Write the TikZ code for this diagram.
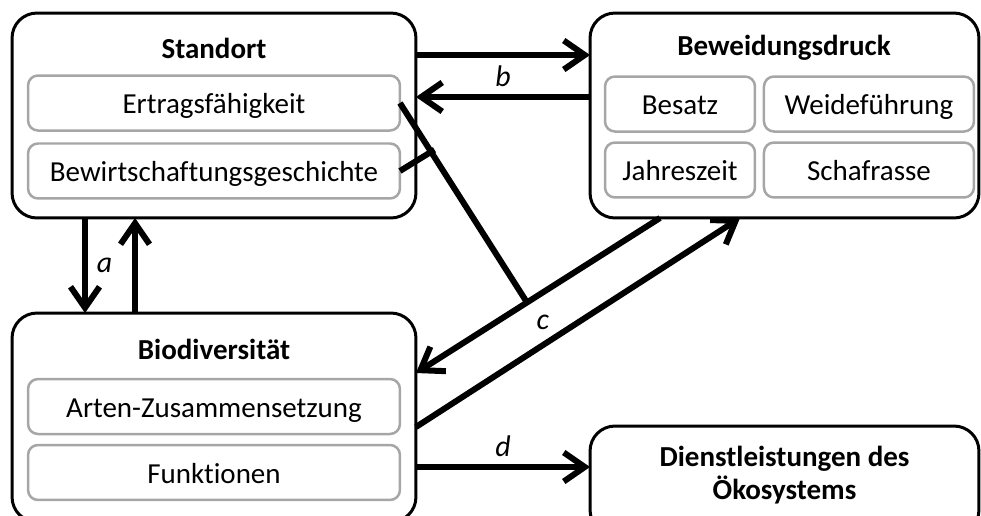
\documentclass[tikz,border=0pt]{standalone}
\usepackage{fontspec}
\setmainfont{Carlito}[Ligatures=NoCommon]
\usetikzlibrary{positioning,arrows.meta}

\tikzset{
  outerbox/.style={draw=black, line width=0.06cm, rounded corners=0.5cm, inner sep=0pt, outer sep=0pt},
  innerbox/.style={draw=black!35, line width=0.05cm, rounded corners=0.2cm, minimum height=1.1cm, inner sep=0pt, outer sep=0pt,
    text height=15pt, text depth=2.6pt, font=\fontsize{16.5}{19}\selectfont},
  titletext/.style={font=\fontsize{16.5}{19}\selectfont\bfseries, align=center},
  flow/.style={line width=0.12cm, -{Straight Barb[length=0.42cm,width=0.58cm]}},
  link/.style={line width=0.12cm},
  lbl/.style={font=\fontsize{17}{19}\selectfont\itshape, inner sep=1pt}
}

\begin{document}
\begin{tikzpicture}[x=0.02cm, y=-0.02cm]
\useasboundingbox (0,0) rectangle (981,515);
\clip (0,0) rectangle (981,515);

% Standort
\node[outerbox, minimum width=8.08cm, minimum height=4.1cm] (standort) at (214,115.5) {};
\node[titletext] (standorttitle) at (214,48) {Standort};
\node[innerbox, minimum width=7.44cm] (ertrag) at (214,103) {Ertragsfähigkeit};
\node[innerbox, minimum width=7.44cm, below=0.26cm of ertrag] (bewirt) {Bewirtschaftungsgeschichte};

% Beweidungsdruck
\node[outerbox, minimum width=7.78cm, minimum height=4.1cm] (beweidung) at (784.5,115.5) {};
\node[titletext] (beweidungtitle) at (784,48) {Beweidungsdruck};
\node[innerbox, minimum width=3cm] (besatz) at (680,104) {Besatz};
\node[innerbox, minimum width=4.2cm, right=0.18cm of besatz] (weide) {Weideführung};
\node[innerbox, minimum width=3cm, below=0.22cm of besatz] (jahr) {Jahreszeit};
\node[innerbox, minimum width=4.2cm, below=0.22cm of weide] (rasse) {Schafrasse};

% Biodiversitaet
\node[outerbox, minimum width=8.08cm, minimum height=4.18cm] (bio) at (214,417.5) {};
\node[titletext] (biotitle) at (214,349) {Biodiversität};
\node[innerbox, minimum width=7.44cm] (arten) at (214,406.5) {Arten-Zusammensetzung};
\node[innerbox, minimum width=7.44cm, below=0.22cm of arten] (funktion) {Funktionen};

% Dienstleistungen
\node[outerbox, minimum width=7.78cm, minimum height=2.18cm] (dienst) at (784.5,480.5) {};
\node[titletext] (diensttitle) at (784.5,475) {Dienstleistungen des\\Ökosystems};

% b
\draw[flow] ([yshift=1.21cm]standort.east) -- ([yshift=1.21cm]beweidung.west);
\draw[flow] ([yshift=0.37cm]beweidung.west) -- node[lbl, above=3pt] {b} ([yshift=0.37cm]standort.east);

% a
\draw[flow] ([xshift=-2.58cm]standort.south) -- node[lbl, right=4pt] {a} ([xshift=-2.58cm]bio.north);
\draw[flow] ([xshift=-1.58cm]bio.north) -- ([xshift=-1.58cm]standort.south);

% c
\draw[flow] ([xshift=-2.49cm]beweidung.south) -- coordinate[pos=0.545] (cjoin)
  node[lbl, pos=0.48, below=0.35cm] {c} ([yshift=0.89cm]bio.east);
\draw[flow] ([yshift=-0.19cm]bio.east) -- ([xshift=-0.89cm]beweidung.south);
\draw[link] (ertrag.east) -- coordinate[pos=0.245] (tick) (cjoin);
\draw[link, shorten >=-0.08cm] (bewirt.east) -- (tick);

% d
\draw[flow] ([yshift=-0.99cm]bio.east) coordinate (dstart) -- node[lbl, above=3pt] {d} (dstart -| dienst.west);
\end{tikzpicture}
\end{document}
